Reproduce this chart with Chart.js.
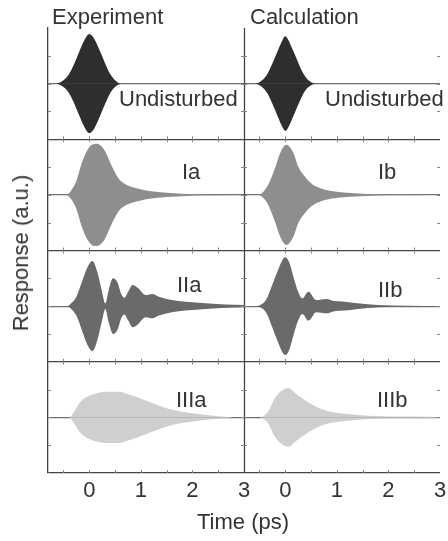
<!DOCTYPE html>
<html>
<head>
<meta charset="utf-8">
<script src="https://cdn.jsdelivr.net/npm/chart.js@4.4.0/dist/chart.umd.min.js"></script>
<style>
  html, body { margin: 0; padding: 0; background: #fff; }
  #wrap { position: relative; width: 448px; height: 541px; font-family: "Liberation Sans", Arial, sans-serif; color: #333; }
  #wrap canvas { position: absolute; left: 0; top: 0; }
  .lbl { position: absolute; font-size: 22px; line-height: 1; white-space: nowrap; }
  #ytitle { left: 21px; top: 253px; transform: translate(-50%, -50%) rotate(-90deg); }
</style>
</head>
<body>
<div id="wrap">
  <canvas id="grafico" width="448" height="541"></canvas>
  <div class="lbl" style="left:52px; top:6px;">Experiment</div>
  <div class="lbl" style="left:250px; top:6px;">Calculation</div>
  <div class="lbl" style="left:119px; top:88px;">Undisturbed</div>
  <div class="lbl" style="left:325px; top:88px;">Undisturbed</div>
  <div class="lbl" style="left:182px; top:161px;">Ia</div>
  <div class="lbl" style="left:378px; top:161px;">Ib</div>
  <div class="lbl" style="left:177px; top:274px;">IIa</div>
  <div class="lbl" style="left:378px; top:279px;">IIb</div>
  <div class="lbl" style="left:176px; top:389px;">IIIa</div>
  <div class="lbl" style="left:377px; top:389px;">IIIb</div>
  <div class="lbl" style="left:197px; top:511px;">Time (ps)</div>
  <div class="lbl" id="ytitle">Response (a.u.)</div>
</div>
<script>
// Ejes
const X_MIN = -0.8;
const X_MAX = 3;
const X_LABEL_TICKS = [0, 1, 2, 3];
const X_MINOR_TICKS = [-0.5, 0, 0.5, 1, 1.5, 2, 2.5];
const Y_MINOR_TICKS = [-0.5, 0, 0.5];

// Envolventes (tiempo en ps, amplitud relativa) - fila Undisturbed
const undExpT   = [-0.8, -0.64, -0.5, -0.4, -0.3, -0.2, -0.1, 0, 0.1, 0.2, 0.3, 0.4, 0.5, 0.62, 3];
const undExpA   = [0, 0, 0.06, 0.16, 0.34, 0.56, 0.77, 0.89, 0.8, 0.6, 0.38, 0.18, 0.06, 0, 0];
const undCalcT  = [-0.8, -0.58, -0.45, -0.35, -0.25, -0.15, -0.05, 0, 0.05, 0.15, 0.25, 0.35, 0.45, 0.6, 3];
const undCalcA  = [0, 0, 0.06, 0.17, 0.36, 0.58, 0.79, 0.85, 0.8, 0.6, 0.38, 0.18, 0.06, 0, 0];

// Fila I
const iaT = [-0.8, -0.45, -0.35, -0.25, -0.15, -0.05, 0.05, 0.15, 0.25, 0.32, 0.45, 0.58, 0.7, 0.83, 1.0, 1.16, 1.5, 2.1, 3];
const iaA = [0, 0, 0.08, 0.25, 0.56, 0.78, 0.9, 0.92, 0.86, 0.76, 0.49, 0.28, 0.19, 0.14, 0.1, 0.07, 0.04, 0.01, 0];
const ibT = [-0.8, -0.52, -0.42, -0.33, -0.2, -0.1, 0.02, 0.16, 0.25, 0.38, 0.5, 0.62, 0.77, 1.03, 1.35, 1.8, 3];
const ibA = [0, 0, 0.06, 0.18, 0.48, 0.75, 0.9, 0.75, 0.51, 0.33, 0.21, 0.14, 0.09, 0.05, 0.03, 0.01, 0];

// Fila II
const iiaT = [-0.8, -0.42, -0.35, -0.25, -0.13, -0.03, 0.06, 0.16, 0.25, 0.31, 0.38, 0.46, 0.55, 0.62, 0.68, 0.75, 0.84, 0.95, 1.05, 1.1, 1.22, 1.35, 1.6, 2.13, 2.65, 3];
const iiaA = [0, 0, 0.05, 0.17, 0.47, 0.71, 0.81, 0.6, 0.25, 0.05, 0.3, 0.5, 0.42, 0.22, 0.15, 0.25, 0.38, 0.32, 0.22, 0.2, 0.22, 0.17, 0.11, 0.06, 0.03, 0.02];
const iibT = [-0.8, -0.58, -0.43, -0.35, -0.27, -0.14, -0.05, 0, 0.08, 0.16, 0.25, 0.33, 0.45, 0.6, 0.8, 0.95, 1.15, 1.4, 1.8, 3];
const iibA = [0, 0, 0.05, 0.15, 0.34, 0.65, 0.84, 0.88, 0.78, 0.52, 0.26, 0.14, 0.26, 0.11, 0.13, 0.09, 0.08, 0.05, 0.02, 0];

// Fila III
const iiiaT = [-0.8, -0.39, -0.29, -0.19, -0.06, 0.13, 0.32, 0.58, 0.77, 0.97, 1.22, 1.48, 1.74, 2.13, 2.51, 2.8, 3];
const iiiaA = [0, 0, 0.11, 0.26, 0.36, 0.43, 0.46, 0.46, 0.41, 0.35, 0.26, 0.17, 0.11, 0.06, 0.02, 0, 0];
const iiibT = [-0.8, -0.49, -0.33, -0.2, -0.07, 0.06, 0.19, 0.32, 0.58, 0.83, 1.22, 1.61, 2.13, 2.78, 3];
const iiibA = [0, 0, 0.11, 0.35, 0.48, 0.53, 0.44, 0.35, 0.2, 0.11, 0.06, 0.03, 0.015, 0.01, 0];

// Colores por fila
const COLOR_UND = '#2e2e2e';
const COLOR_I = '#8e8e8e';
const COLOR_II = '#6a6a6a';
const COLOR_III = '#cfcfcf';

const FUENTE = '"Liberation Sans", Arial, sans-serif';
Chart.defaults.font.family = FUENTE;

// Dos conjuntos (arriba/abajo) rellenos hasta el origen
function envolvente(t, a, color, xId, yId) {
    const base = {
        backgroundColor: color,
        borderColor: color,
        borderWidth: 0,
        pointRadius: 0,
        fill: 'origin',
        cubicInterpolationMode: 'monotone',
        xAxisID: xId,
        yAxisID: yId
    };
    return [
        Object.assign({}, base, { data: t.map((v, i) => ({ x: v, y: a[i] })) }),
        Object.assign({}, base, { data: t.map((v, i) => ({ x: v, y: -a[i] })) })
    ];
}

const datasets = [].concat(
    envolvente(undExpT, undExpA, COLOR_UND, 'xExp', 'yUnd'),
    envolvente(undCalcT, undCalcA, COLOR_UND, 'xCalc', 'yUnd'),
    envolvente(iaT, iaA, COLOR_I, 'xExp', 'yI'),
    envolvente(ibT, ibA, COLOR_I, 'xCalc', 'yI'),
    envolvente(iiaT, iiaA, COLOR_II, 'xExp', 'yII'),
    envolvente(iibT, iibA, COLOR_II, 'xCalc', 'yII'),
    envolvente(iiiaT, iiiaA, COLOR_III, 'xExp', 'yIII'),
    envolvente(iiibT, iiibA, COLOR_III, 'xCalc', 'yIII')
);

function ejeX() {
    return {
        type: 'linear',
        position: 'bottom',
        stack: 'cols',
        stackWeight: 1,
        min: X_MIN,
        max: X_MAX,
        afterBuildTicks: s => { s.ticks = X_LABEL_TICKS.map(v => ({ value: v })); },
        afterFit: s => { s.height = 36; s.paddingLeft = 0; s.paddingRight = 0; },
        grid: { display: false, drawTicks: false },
        border: { display: false },
        ticks: { color: '#333', font: { size: 22 }, padding: 5, maxRotation: 0, autoSkip: false }
    };
}

function ejeY() {
    return {
        type: 'linear',
        position: 'left',
        stack: 'rows',
        stackWeight: 1,
        min: -1,
        max: 1,
        afterBuildTicks: s => { s.ticks = [-1, 0, 1].map(v => ({ value: v })); },
        afterFit: s => { s.width = 0; s.paddingTop = 0; s.paddingBottom = 0; },
        ticks: { display: false },
        border: { display: true, color: '#444', width: 1.3 },
        grid: {
            drawTicks: false,
            lineWidth: 1.2,
            color: ctx => {
                if (!ctx.tick) return 'transparent';
                if (ctx.tick.value === 0) return '#6f6f6f';
                if (ctx.tick.value === -1) return '#444';
                return 'transparent';
            }
        }
    };
}

// Separador de columnas y marcas menores hacia dentro
const marcasPlugin = {
    id: 'marcas',
    afterDraw(chart) {
        const ctx = chart.ctx;
        const area = chart.chartArea;
        const xs = [chart.scales.xExp, chart.scales.xCalc];
        const filas = ['yUnd', 'yI', 'yII', 'yIII'].map(id => chart.scales[id]);
        ctx.save();
        ctx.strokeStyle = '#444';
        ctx.lineWidth = 1.3;
        const xDiv = Math.round(chart.scales.xExp.getPixelForValue(X_MAX)) + 0.5;
        ctx.beginPath();
        ctx.moveTo(xDiv, area.top);
        ctx.lineTo(xDiv, area.bottom);
        ctx.stroke();

        ctx.strokeStyle = '#888';
        ctx.lineWidth = 1;
        ctx.beginPath();
        filas.forEach((ys, fi) => {
            xs.forEach(sx => {
                X_MINOR_TICKS.forEach(v => {
                    const px = Math.round(sx.getPixelForValue(v)) + 0.5;
                    ctx.moveTo(px, ys.bottom);
                    ctx.lineTo(px, ys.bottom - 3);
                    if (fi > 0) {
                        ctx.moveTo(px, ys.top);
                        ctx.lineTo(px, ys.top + 3);
                    }
                });
                Y_MINOR_TICKS.forEach(v => {
                    const py = Math.round(ys.getPixelForValue(v)) + 0.5;
                    ctx.moveTo(sx.left, py);
                    ctx.lineTo(sx.left + 3, py);
                    ctx.moveTo(sx.right, py);
                    ctx.lineTo(sx.right - 3, py);
                });
            });
        });
        ctx.stroke();
        ctx.restore();
    }
};

new Chart(document.getElementById('grafico'), {
    type: 'line',
    data: { datasets: datasets },
    options: {
        responsive: false,
        animation: false,
        layout: { padding: { left: 48, top: 28, right: 8, bottom: 32 } },
        plugins: { legend: { display: false }, tooltip: { enabled: false } },
        scales: {
            xExp: ejeX(),
            xCalc: ejeX(),
            yIII: ejeY(),
            yII: ejeY(),
            yI: ejeY(),
            yUnd: ejeY()
        }
    },
    plugins: [marcasPlugin]
});
</script>
</body>
</html>
